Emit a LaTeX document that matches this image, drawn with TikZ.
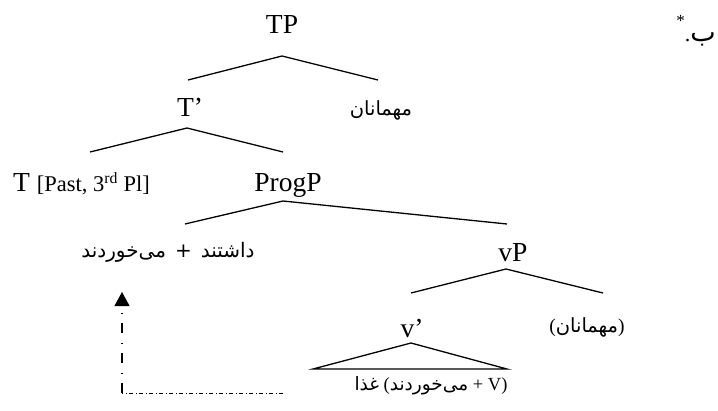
\documentclass[tikz,border=0pt]{standalone}
\usepackage{fontspec}
\setmainfont{Liberation Serif}
\newfontfamily\arabicfont[Script=Arabic]{DejaVu Sans}
\TeXXeTstate=1
\usetikzlibrary{arrows.meta}
\newcommand\fa[1]{{\arabicfont\beginR #1\endR}}
\begin{document}
\begin{tikzpicture}[x=1pt,y=-1pt,
  lat/.style={inner sep=0pt, font=\fontsize{27.5}{30}\selectfont},
  ara/.style={inner sep=0pt, font=\fontsize{19.5}{22}\selectfont},
  branch/.style={line width=1.3pt},
  vdash/.style={line width=1.2pt, dash pattern=on 10pt off 9.5pt on 1pt off 9.5pt},
  hdash/.style={line width=1pt, dash pattern=on 4pt off 2.5pt on 1pt off 2.5pt}]
\useasboundingbox (0,0) rectangle (718,410);

% labels
\node[inner sep=0pt, anchor=base east, font=\fontsize{22}{24}\selectfont] (num) at (716,41)
  {\raisebox{15pt}{\fontsize{17}{17}\selectfont *}.{\fontsize{27}{28}\selectfont\fa{ب}}};
\node[lat, anchor=base] (TP) at (282,33) {TP};
\node[lat, anchor=base] (Tbar) at (190,116) {T’};
\node[ara] (subj) at (381,110) {\fa{مهمانان}};
\node[lat, anchor=base west] (T) at (13,191) {T {\fontsize{22.5}{24}\selectfont[Past, 3\textsuperscript{rd} Pl]}};
\node[lat, anchor=base] (ProgP) at (288,191) {ProgP};
\node[ara, font=\fontsize{20}{22}\selectfont] (verb) at (168,252) {\fa{داشتند\hspace{9pt}+\hspace{9pt}می‌خوردند}};
\node[lat, anchor=base] (vP) at (513,261) {vP};
\node[lat, anchor=base] (vbar) at (412,337) {v’};
\node[ara] (trace) at (587,327) {(\fa{مهمانان})};
\node[ara, font=\fontsize{18.5}{22}\selectfont] (obj) at (431,386) {\fa{غذا} (\fa{می‌خوردند} + V)};

% branch points
\coordinate (tpA) at (282,56);  \coordinate (tpL) at (188,80);  \coordinate (tpR) at (378,80);
\coordinate (tbA) at (187,128); \coordinate (tbL) at (90,152);  \coordinate (tbR) at (283,152);
\coordinate (ppA) at (283,201); \coordinate (ppL) at (185,224); \coordinate (ppR) at (507,224);
\coordinate (vpA) at (506,269); \coordinate (vpL) at (411,293); \coordinate (vpR) at (603,293);
\coordinate (vbA) at (411,343); \coordinate (vbL) at (313,369); \coordinate (vbR) at (507,369);

\draw[branch] (tpL) -- (tpA) -- (tpR);
\draw[branch] (tbL) -- (tbA) -- (tbR);
\draw[branch] (ppL) -- (ppA) -- (ppR);
\draw[branch] (vpL) -- (vpA) -- (vpR);
\draw[branch] (vbL) -- (vbA) -- (vbR) -- cycle;

% movement arrow
\coordinate (mvStart) at (283,393);
\coordinate (mvCorner) at (122,393);
\coordinate (mvTip) at (122,292);
\draw[hdash] (mvStart) -- (mvCorner);
\draw[vdash, -{Triangle[length=14pt,width=15pt]}] (mvCorner) -- (mvTip);
\end{tikzpicture}
\end{document}
